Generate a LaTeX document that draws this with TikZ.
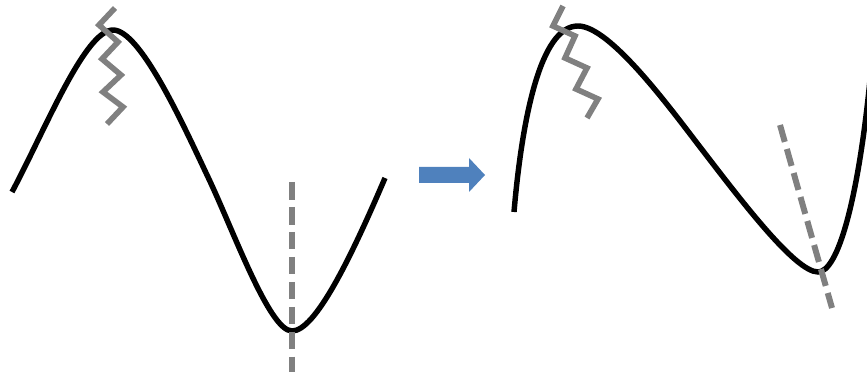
\documentclass[tikz,border=0pt]{standalone}
\usepackage{tikz}
\definecolor{zgray}{RGB}{128,128,128}
\definecolor{arrblue}{RGB}{79,129,189}

\begin{document}
\begin{tikzpicture}[
      x=0.2mm,y=-0.2mm,
      wave/.style={line width=3.1pt,draw=black},
      zig/.style={line width=3.2pt,draw=zgray,line join=miter},
      symline/.style={line width=3.4pt,draw=zgray,dash pattern=on 10pt off 4.2pt},
      bigarr/.style={fill=arrblue,draw=none}
    ]
    \useasboundingbox (0,0) rectangle (867,379);
    \clip (0,0) rectangle (867,379);

    % before
    \coordinate (ls) at (12,192);
    \coordinate (lp) at (113,30);
    \coordinate (lm) at (207,175);
    \coordinate (lv) at (292,331);
    \coordinate (le) at (385,178);
    \draw[wave] (ls) .. controls (45,130) and (85,30) .. (lp)
                     .. controls (140,30) and (182,122) .. (lm)
                     .. controls (233,229) and (269,331) .. (lv)
                     .. controls (315,331) and (350,260) .. (le);
    \draw[zig] (115,8) -- (99,25) -- (118,42) -- (102,59) -- (121,75)
               -- (103,92) -- (123,107) -- (107,124);
    \draw[symline] (292,182) -- (292,372);

    % arrow
    \fill[bigarr] (419,167) -- (469,167) -- (469,158) -- (485,175)
                  -- (469,192) -- (469,183) -- (419,183) -- cycle;

    % after
    \coordinate (rs) at (514,212);
    \coordinate (rp) at (578,26);
    \coordinate (rm) at (700,147);
    \coordinate (rv) at (818,272);
    \coordinate (re) at (870,80);
    \draw[wave] (rs) .. controls (522,120) and (540,26) .. (rp)
                     .. controls (610,26) and (670,108) .. (rm)
                     .. controls (740,199) and (795,272) .. (rv)
                     .. controls (838,272) and (858,200) .. (re);
    \draw[zig] (563,6) -- (553,26) -- (575,36) -- (565,58) -- (587,68)
               -- (576,89) -- (598,99) -- (587,118);
    \draw[symline] (780,125) -- (832,308);
\end{tikzpicture}
\end{document}
